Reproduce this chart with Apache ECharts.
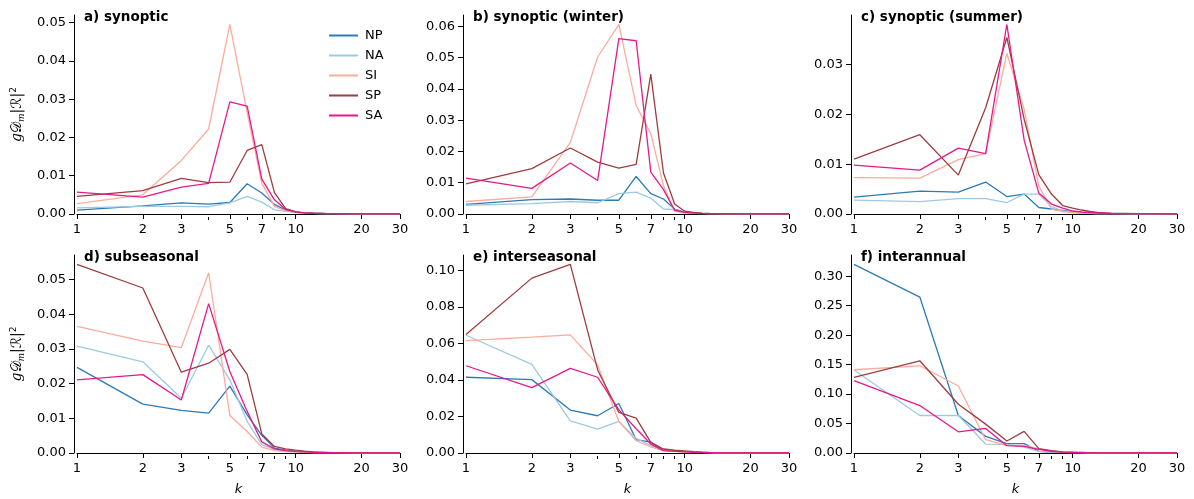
<!DOCTYPE html>
<html>
<head>
<meta charset="utf-8">
<script src="https://cdn.jsdelivr.net/npm/echarts@6/dist/echarts.min.js"></script>
<style>
  html, body { margin: 0; padding: 0; background: #fff; }
  #main { width: 1194px; height: 499px; }
</style>
</head>
<body>
<div id="main"></div>
<script>
// wavenumbers k
var K = [1, 2, 3, 4, 5, 6, 7, 8, 9, 10, 11, 12, 13, 14, 15, 20, 25, 30];
var names = ['NP', 'NA', 'SI', 'SP', 'SA'];
var colors = ['#2c7bb6', '#9ecae1', '#fcab9c', '#9e3d3d', '#e6198a'];
var panelTitles = ['a) synoptic', 'b) synoptic (winter)', 'c) synoptic (summer)',
                   'd) subseasonal', 'e) interseasonal', 'f) interannual'];
var labelTicks = [1, 2, 3, 5, 7, 10, 20, 30];
var minorTicks = [4, 6, 8, 9];
var yTicks = [
  [0, 0.01, 0.02, 0.03, 0.04, 0.05],
  [0, 0.01, 0.02, 0.03, 0.04, 0.05, 0.06],
  [0, 0.01, 0.02, 0.03],
  [0, 0.01, 0.02, 0.03, 0.04, 0.05],
  [0, 0.02, 0.04, 0.06, 0.08, 0.10],
  [0, 0.05, 0.10, 0.15, 0.20, 0.25, 0.30]
];

// a) synoptic
var aNP = [0.0010, 0.0021, 0.0029, 0.0026, 0.0030, 0.0079, 0.0055, 0.0025, 0.0010, 0.0005, 0.0003, 0.0002, 0.00015, 0.0001, 0.0001, 0.00005, 0.00003, 0.00002];
var aNA = [0.0016, 0.0020, 0.0020, 0.0019, 0.0029, 0.0046, 0.0031, 0.0011, 0.0007, 0.0004, 0.0002, 0.00015, 0.0001, 0.0001, 0.00008, 0.00004, 0.00002, 0.00001];
var aSI = [0.0027, 0.0050, 0.0140, 0.0222, 0.0495, 0.0265, 0.0080, 0.0020, 0.0008, 0.0004, 0.0002, 0.00015, 0.0001, 0.0001, 0.00008, 0.00004, 0.00002, 0.00001];
var aSP = [0.0046, 0.0061, 0.0093, 0.0082, 0.0083, 0.0166, 0.0181, 0.0056, 0.0014, 0.0006, 0.0003, 0.0002, 0.00015, 0.0001, 0.0001, 0.00005, 0.00003, 0.00002];
var aSA = [0.0057, 0.0044, 0.0070, 0.0080, 0.0293, 0.0282, 0.0091, 0.0037, 0.0012, 0.0005, 0.0003, 0.0002, 0.00015, 0.0001, 0.0001, 0.00005, 0.00003, 0.00002];

// b) synoptic (winter)
var bNP = [0.0031, 0.0046, 0.0048, 0.0044, 0.0044, 0.0120, 0.0065, 0.0048, 0.0016, 0.0006, 0.0003, 0.0002, 0.00015, 0.0001, 0.0001, 0.00005, 0.00003, 0.00002];
var bNA = [0.0028, 0.0033, 0.0040, 0.0036, 0.0065, 0.0070, 0.0051, 0.0016, 0.0014, 0.0005, 0.0003, 0.0002, 0.00015, 0.0001, 0.0001, 0.00005, 0.00003, 0.00002];
var bSI = [0.0040, 0.0055, 0.0229, 0.0502, 0.0606, 0.0347, 0.0257, 0.0090, 0.0009, 0.0004, 0.0002, 0.00015, 0.0001, 0.0001, 0.00008, 0.00004, 0.00002, 0.00001];
var bSP = [0.0096, 0.0145, 0.0211, 0.0166, 0.0147, 0.0159, 0.0447, 0.0131, 0.0032, 0.0009, 0.0005, 0.0003, 0.0002, 0.00015, 0.0001, 0.00005, 0.00003, 0.00002];
var bSA = [0.0115, 0.0082, 0.0163, 0.0107, 0.0561, 0.0554, 0.0134, 0.0078, 0.0012, 0.0005, 0.0003, 0.0002, 0.00015, 0.0001, 0.0001, 0.00005, 0.00003, 0.00002];

// c) synoptic (summer)
var cNP = [0.0034, 0.0046, 0.0044, 0.0064, 0.0035, 0.0040, 0.0013, 0.0010, 0.0007, 0.0004, 0.0002, 0.00015, 0.0001, 0.0001, 0.00008, 0.00004, 0.00002, 0.00001];
var cNA = [0.0028, 0.0025, 0.0031, 0.0031, 0.0023, 0.0040, 0.0040, 0.0015, 0.0006, 0.0003, 0.0002, 0.00015, 0.0001, 0.0001, 0.00008, 0.00004, 0.00002, 0.00001];
var cSI = [0.0073, 0.0072, 0.0109, 0.0121, 0.0322, 0.0210, 0.0056, 0.0010, 0.0005, 0.0003, 0.0002, 0.00015, 0.0001, 0.0001, 0.00008, 0.00004, 0.00002, 0.00001];
var cSP = [0.0110, 0.0159, 0.0078, 0.0213, 0.0354, 0.0190, 0.0079, 0.0040, 0.0017, 0.0012, 0.0008, 0.0005, 0.0003, 0.0002, 0.00015, 0.00006, 0.00003, 0.00002];
var cSA = [0.0098, 0.0088, 0.0132, 0.0121, 0.0380, 0.0148, 0.0042, 0.0020, 0.0012, 0.0006, 0.0004, 0.0003, 0.0002, 0.00015, 0.0001, 0.00005, 0.00003, 0.00002];

// d) subseasonal
var dNP = [0.0247, 0.0141, 0.0123, 0.0115, 0.0193, 0.0110, 0.0051, 0.0014, 0.0008, 0.0005, 0.0003, 0.0002, 0.00015, 0.0001, 0.0001, 0.00005, 0.00003, 0.00002];
var dNA = [0.0308, 0.0263, 0.0158, 0.0311, 0.0211, 0.0091, 0.0024, 0.0010, 0.0006, 0.0004, 0.0002, 0.00015, 0.0001, 0.0001, 0.00008, 0.00004, 0.00002, 0.00001];
var dSI = [0.0365, 0.0323, 0.0304, 0.0520, 0.0108, 0.0062, 0.0017, 0.0007, 0.0004, 0.0003, 0.0002, 0.00015, 0.0001, 0.0001, 0.00008, 0.00004, 0.00002, 0.00001];
var dSP = [0.0544, 0.0476, 0.0233, 0.0259, 0.0299, 0.0227, 0.0055, 0.0019, 0.0012, 0.0008, 0.0005, 0.0003, 0.0002, 0.00015, 0.0001, 0.00005, 0.00003, 0.00002];
var dSA = [0.0211, 0.0226, 0.0153, 0.0431, 0.0235, 0.0120, 0.0032, 0.0012, 0.0007, 0.0004, 0.0003, 0.0002, 0.00015, 0.0001, 0.0001, 0.00005, 0.00003, 0.00002];

// e) interseasonal
var eNP = [0.0415, 0.0402, 0.0235, 0.0204, 0.0271, 0.0073, 0.0060, 0.0015, 0.0012, 0.0008, 0.0005, 0.0003, 0.0002, 0.00015, 0.0001, 0.00005, 0.00003, 0.00002];
var eNA = [0.0645, 0.0485, 0.0176, 0.0131, 0.0173, 0.0080, 0.0040, 0.0015, 0.0010, 0.0006, 0.0004, 0.0003, 0.0002, 0.00015, 0.0001, 0.00005, 0.00003, 0.00002];
var eSI = [0.0616, 0.0635, 0.0647, 0.0482, 0.0173, 0.0067, 0.0033, 0.0013, 0.0009, 0.0006, 0.0004, 0.0003, 0.0002, 0.00015, 0.0001, 0.00005, 0.00003, 0.00002];
var eSP = [0.0649, 0.0958, 0.1033, 0.0455, 0.0222, 0.0191, 0.0058, 0.0022, 0.0015, 0.0012, 0.0008, 0.0005, 0.0003, 0.0002, 0.00015, 0.00006, 0.00003, 0.00002];
var eSA = [0.0478, 0.0358, 0.0464, 0.0415, 0.0236, 0.0133, 0.0049, 0.0013, 0.0009, 0.0006, 0.0004, 0.0003, 0.0002, 0.00015, 0.0001, 0.00005, 0.00003, 0.00002];

// f) interannual
var fNP = [0.320, 0.2646, 0.0636, 0.0282, 0.0158, 0.0158, 0.0028, 0.0015, 0.0010, 0.0007, 0.0005, 0.0003, 0.0002, 0.00015, 0.0001, 0.00005, 0.00003, 0.00002];
var fNA = [0.1408, 0.0636, 0.0636, 0.0152, 0.0146, 0.0101, 0.0028, 0.0015, 0.0010, 0.0007, 0.0005, 0.0003, 0.0002, 0.00015, 0.0001, 0.00005, 0.00003, 0.00002];
var fSI = [0.1413, 0.1480, 0.1137, 0.0225, 0.0130, 0.0124, 0.0068, 0.0030, 0.0015, 0.0010, 0.0006, 0.0004, 0.0003, 0.0002, 0.00015, 0.00006, 0.00003, 0.00002];
var fSP = [0.1284, 0.1565, 0.0828, 0.0490, 0.0203, 0.0366, 0.0073, 0.0040, 0.0020, 0.0015, 0.0010, 0.0006, 0.0004, 0.0003, 0.0002, 0.00008, 0.00004, 0.00002];
var fSA = [0.1228, 0.0805, 0.0360, 0.0417, 0.0124, 0.0113, 0.0062, 0.0030, 0.0015, 0.0010, 0.0006, 0.0004, 0.0003, 0.0002, 0.00015, 0.00006, 0.00003, 0.00002];

var panels = [
  [aNP, aNA, aSI, aSP, aSA],
  [bNP, bNA, bSI, bSP, bSA],
  [cNP, cNA, cSI, cSP, cSA],
  [dNP, dNA, dSI, dSP, dSA],
  [eNP, eNA, eSI, eSP, eSA],
  [fNP, fNA, fSI, fSP, fSA]
];

var FONT = 'DejaVu Sans';
var gridLefts = [77, 466, 854];
var gridTops = [15, 255];
var gridHeights = [199, 198];

var grids = [], xAxes = [], yAxes = [], series = [], titles = [];

for (var p = 0; p < 6; p++) {
  var row = Math.floor(p / 3), col = p % 3;
  grids.push({
    left: gridLefts[col], top: gridTops[row],
    width: 323, height: gridHeights[row]
  });
  titles.push({
    text: panelTitles[p],
    left: gridLefts[col] + 7, top: gridTops[row] - 5,
    padding: 0,
    textStyle: { fontFamily: FONT, fontSize: 13.5, fontWeight: 'bold', color: '#000' }
  });
  // main x axis with labelled ticks
  xAxes.push({
    type: 'log', logBase: 10, min: 1, max: 30, gridIndex: p,
    offset: 3,
    name: row == 1 ? 'k' : '',
    nameLocation: 'middle', nameGap: 27,
    nameTextStyle: { fontFamily: FONT, fontSize: 13, fontStyle: 'italic', color: '#000' },
    axisLine: { show: true, lineStyle: { color: '#000', width: 1 } },
    axisTick: { show: true, length: 5, customValues: labelTicks, lineStyle: { color: '#000' } },
    axisLabel: { show: true, customValues: labelTicks, fontFamily: FONT, fontSize: 13, color: '#000', margin: 6 },
    splitLine: { show: false }, minorTick: { show: false }
  });
  // second x axis for the unlabelled minor ticks
  xAxes.push({
    type: 'log', logBase: 10, min: 1, max: 30, gridIndex: p,
    offset: 3, position: 'bottom',
    axisLine: { show: false },
    axisTick: { show: true, length: 3, customValues: minorTicks, lineStyle: { color: '#000' } },
    axisLabel: { show: false },
    splitLine: { show: false }
  });
  yAxes.push({
    type: 'value', gridIndex: p, min: 0,
    max: function (v) { return v.max * 1.05; },
    offset: 3,
    name: col == 0 ? '{g|g}{d|𝒟}{m|m}{r||ℛ|}{s|2}' : '',
    nameLocation: 'middle', nameGap: 48, nameRotate: 90,
    nameTextStyle: {
      fontFamily: FONT, fontSize: 13, color: '#000',
      rich: {
        g: { fontFamily: 'DejaVu Serif', fontStyle: 'italic', fontSize: 14, color: '#000' },
        d: { fontSize: 14, color: '#000' },
        m: { fontFamily: 'DejaVu Serif', fontStyle: 'italic', fontSize: 9, verticalAlign: 'bottom', padding: [6, 0, 0, 0], color: '#000' },
        r: { fontSize: 14, color: '#000' },
        s: { fontSize: 9, padding: [0, 0, 8, 0], color: '#000' }
      }
    },
    axisLine: { show: true, lineStyle: { color: '#000', width: 1 } },
    axisTick: { show: true, length: 5, customValues: yTicks[p], lineStyle: { color: '#000' } },
    axisLabel: {
      customValues: yTicks[p],
      fontFamily: FONT, fontSize: 13, color: '#000', margin: 8,
      formatter: function (v) { return v.toFixed(2); }
    },
    splitLine: { show: false }
  });
  for (var s = 0; s < 5; s++) {
    var pts = [];
    for (var i = 0; i < K.length; i++) pts.push([K[i], panels[p][s][i]]);
    series.push({
      name: names[s], type: 'line',
      xAxisIndex: p * 2, yAxisIndex: p,
      data: pts, showSymbol: false, symbol: 'none',
      lineStyle: { color: colors[s], width: 1.3 },
      itemStyle: { color: colors[s] },
      animation: false, silent: true
    });
  }
}

var myChart = echarts.init(document.getElementById('main'));
myChart.setOption({
  animation: false,
  title: titles,
  legend: {
    data: names,
    orient: 'vertical',
    left: 324, top: 24,
    icon: 'rect', itemWidth: 29, itemHeight: 2, itemGap: 7,
    textStyle: { fontFamily: FONT, fontSize: 13, color: '#000', padding: [0, 0, 0, 2] }
  },
  grid: grids,
  xAxis: xAxes,
  yAxis: yAxes,
  series: series
});
</script>
</body>
</html>
